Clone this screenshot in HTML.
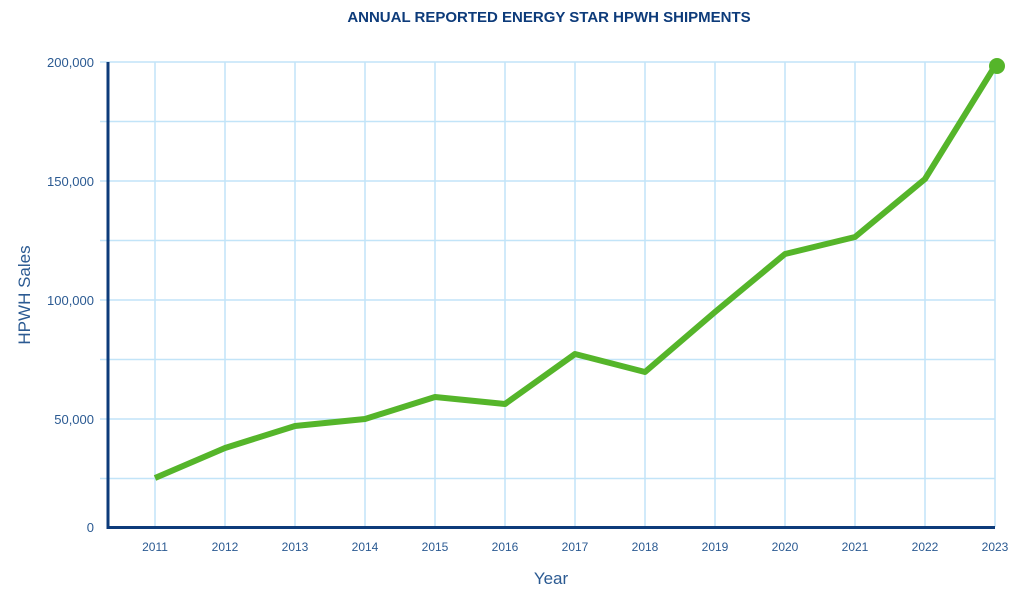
<!DOCTYPE html>
<html><head><style>body{margin:0;background:#fff}</style></head><body>
<svg width="1024" height="597" xmlns="http://www.w3.org/2000/svg" font-family="Liberation Sans, sans-serif">
<text x="549" y="22" text-anchor="middle" font-size="15" font-weight="bold" fill="#0d3b7a">ANNUAL REPORTED ENERGY STAR HPWH SHIPMENTS</text>
<g stroke="#c2e4f8" stroke-width="1.5">
<line x1="100" y1="62" x2="995" y2="62"/><line x1="100" y1="121.5" x2="995" y2="121.5"/><line x1="100" y1="181" x2="995" y2="181"/><line x1="100" y1="240.5" x2="995" y2="240.5"/><line x1="100" y1="300" x2="995" y2="300"/><line x1="100" y1="359.5" x2="995" y2="359.5"/><line x1="100" y1="419" x2="995" y2="419"/><line x1="100" y1="478.5" x2="995" y2="478.5"/>
<line x1="155" y1="62" x2="155" y2="527"/><line x1="225" y1="62" x2="225" y2="527"/><line x1="295" y1="62" x2="295" y2="527"/><line x1="365" y1="62" x2="365" y2="527"/><line x1="435" y1="62" x2="435" y2="527"/><line x1="505" y1="62" x2="505" y2="527"/><line x1="575" y1="62" x2="575" y2="527"/><line x1="645" y1="62" x2="645" y2="527"/><line x1="715" y1="62" x2="715" y2="527"/><line x1="785" y1="62" x2="785" y2="527"/><line x1="855" y1="62" x2="855" y2="527"/><line x1="925" y1="62" x2="925" y2="527"/><line x1="995" y1="62" x2="995" y2="527"/>
</g>
<path d="M108 62 V527.5 H995" fill="none" stroke="#0d3b7a" stroke-width="3"/>
<g font-size="13" fill="#2b5a92" text-anchor="end">
<text x="94" y="67">200,000</text><text x="94" y="186">150,000</text><text x="94" y="305">100,000</text><text x="94" y="424">50,000</text><text x="94" y="532">0</text>
</g>
<g font-size="12" fill="#2b5a92" text-anchor="middle">
<text x="155" y="551">2011</text><text x="225" y="551">2012</text><text x="295" y="551">2013</text><text x="365" y="551">2014</text><text x="435" y="551">2015</text><text x="505" y="551">2016</text><text x="575" y="551">2017</text><text x="645" y="551">2018</text><text x="715" y="551">2019</text><text x="785" y="551">2020</text><text x="855" y="551">2021</text><text x="925" y="551">2022</text><text x="995" y="551">2023</text>
</g>
<text x="551" y="584" text-anchor="middle" font-size="17" fill="#2b5a92">Year</text>
<text transform="translate(30,295) rotate(-90)" text-anchor="middle" font-size="17" fill="#2b5a92">HPWH Sales</text>
<polyline points="155,478 225,448 295,426 365,419 435,397 505,404 575,354 645,372 715,312 785,254 855,237 925,179 995,66" fill="none" stroke="#55b52a" stroke-width="6" stroke-linejoin="round"/>
<circle cx="997" cy="66" r="8" fill="#55b52a"/>
</svg>
</body></html>
